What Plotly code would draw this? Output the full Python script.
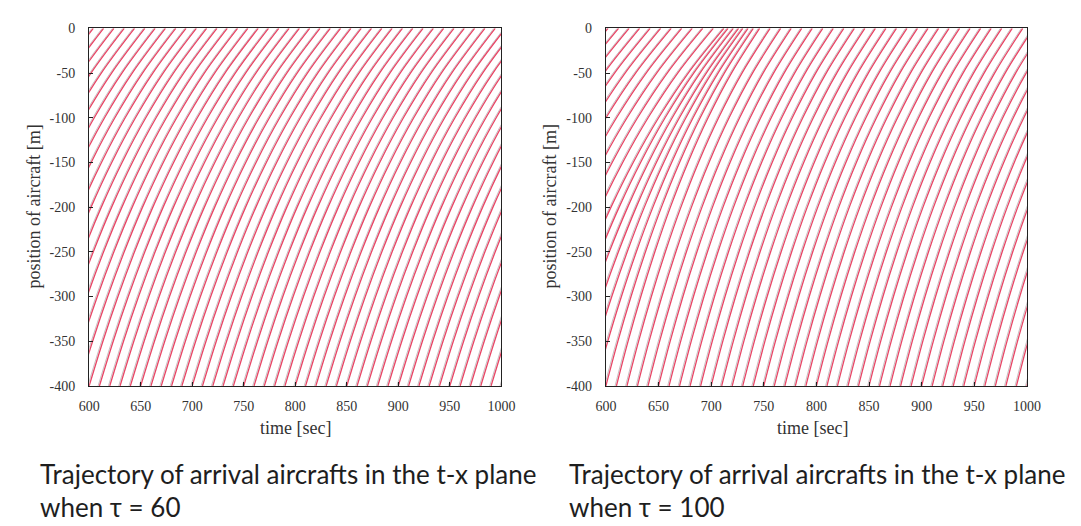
import plotly.graph_objects as go

# ---- data ----
# trajectory profile: position [m] and fraction of the travel time elapsed
PROFILE_POS = [-400, -350, -300, -250, -200, -150, -100, -50, 0]
PROFILE_FRAC = [0.0, 0.0815, 0.1705, 0.2685, 0.377, 0.4997, 0.640, 0.8035, 1.0]

# tau = 60 : entry times at x = -400 [sec] and travel time to x = 0
LEFT_ENTRY = [430, 440, 450, 460, 470, 480, 490, 500, 510, 520, 530, 540, 550,
              560, 570, 580, 590, 600, 610, 620, 630, 640, 650, 660, 670, 680, 690,
              700, 710, 720, 730, 740, 750, 760, 770, 780, 790, 800, 810, 820, 830,
              840, 850, 860, 870, 880, 890, 900, 910, 920, 930, 940, 950, 960, 970,
              980, 990, 1000]
LEFT_TRAVEL = [164] * len(LEFT_ENTRY)

# tau = 100
RIGHT_ENTRY = [420, 430, 440, 450, 460, 470, 480, 490, 500, 510, 520, 530, 540,
               550, 560, 570, 580, 590, 600, 610, 620, 630, 640, 650, 660, 670, 680,
               690, 700, 710, 720, 730, 740, 750, 760, 770, 780, 790, 800, 810, 820,
               830, 840, 850, 860, 870, 880, 890, 900, 910, 920, 930, 940, 950, 960,
               970, 980, 990, 1000]
RIGHT_TRAVEL = [172, 172, 172, 172, 172, 172, 172, 172, 172, 172, 172, 172, 172,
                166, 161, 156, 150, 145, 140, 136, 136, 136, 136, 136, 136, 136, 136,
                136, 136, 136, 136, 136, 136, 136, 136, 136, 136, 136, 136, 136, 136,
                136, 136, 136, 136, 136, 136, 136, 136, 136, 136, 136, 136, 136, 136,
                136, 136, 136, 136]

X_TICKS = [600, 650, 700, 750, 800, 850, 900, 950, 1000]
Y_TICKS = [0, -50, -100, -150, -200, -250, -300, -350, -400]
Y_TICKTEXT = ["0", "-50", "-100", "-150", "-200", "-250", "-300", "-350", "-400"]

SHADOW_COLOR = "rgba(90,70,78,0.38)"
LINE_COLOR = "rgb(232,70,102)"

fig = go.Figure()


def add_set(entries, travels, xa, ya):
    for e, T in zip(entries, travels):
        xs = [e + f * T for f in PROFILE_FRAC]
        # faint dark edge next to each red trajectory (as in the scanned figure)
        fig.add_trace(go.Scatter(
            x=[v - 1.3 for v in xs], y=PROFILE_POS,
            mode="lines", line=dict(color=SHADOW_COLOR, width=0.9, shape="spline"),
            xaxis=xa, yaxis=ya, showlegend=False, hoverinfo="skip"))
        fig.add_trace(go.Scatter(
            x=xs, y=PROFILE_POS,
            mode="lines", line=dict(color=LINE_COLOR, width=1.3, shape="spline"),
            xaxis=xa, yaxis=ya, showlegend=False, hoverinfo="skip"))


add_set(LEFT_ENTRY, LEFT_TRAVEL, "x", "y")
add_set(RIGHT_ENTRY, RIGHT_TRAVEL, "x2", "y2")

W, H = 1081, 526
serif = "Liberation Serif, Times New Roman, serif"
tickfont = dict(family=serif, size=14, color="#333")


def ax(domain, rng, tv, tt, anchor, standoff):
    return dict(domain=domain, range=rng, tickvals=tv, ticktext=tt, anchor=anchor,
                showline=True, mirror=True, linecolor="#222", linewidth=1.3,
                ticks="inside", ticklen=4, tickcolor="#222", showgrid=False,
                zeroline=False, tickfont=tickfont, fixedrange=True,
                ticklabelstandoff=standoff)


ydom = [1 - 390 / H, 1 - 22 / H]
fig.update_layout(
    width=W, height=H, margin=dict(l=0, r=0, t=0, b=0),
    paper_bgcolor="white", plot_bgcolor="white",
    xaxis=ax([80 / W, 502 / W], [600, 1000], X_TICKS, [str(v) for v in X_TICKS], "y", 7),
    yaxis=ax(ydom, [-400, 0], Y_TICKS, Y_TICKTEXT, "x", 10),
    xaxis2=ax([609 / W, 1040 / W], [600, 1000], X_TICKS, [str(v) for v in X_TICKS], "y2", 7),
    yaxis2=ax(ydom, [-400, 0], Y_TICKS, Y_TICKTEXT, "x2", 10),
)

annos = []
for cx, yx in [(291, 24), (820, 552)]:
    annos.append(dict(text="time [sec]", x=cx / W, y=1 - 433 / H, xref="paper", yref="paper",
                      showarrow=False, font=dict(family=serif, size=18, color="#333"),
                      xanchor="center", yanchor="middle"))
    annos.append(dict(text="position of aircraft [m]", x=yx / W, y=1 - 205 / H,
                      xref="paper", yref="paper", showarrow=False, textangle=-90,
                      font=dict(family=serif, size=18, color="#333"),
                      xanchor="center", yanchor="middle"))

cap_font = dict(family="Lato, Open Sans, sans-serif", size=26, color="#1e1e1e")
for lx, tau in [(28, "60"), (569, "100")]:
    annos.append(dict(text="Trajectory of arrival aircrafts in the t-x plane",
                      x=lx / W, y=1 - 481 / H, xref="paper", yref="paper", showarrow=False,
                      font=cap_font, xanchor="left", yanchor="middle"))
    annos.append(dict(text="when \u03c4 = " + tau,
                      x=lx / W, y=1 - 515 / H, xref="paper", yref="paper", showarrow=False,
                      font=cap_font, xanchor="left", yanchor="middle"))

fig.update_layout(annotations=annos)
fig.write_html("out.html")
